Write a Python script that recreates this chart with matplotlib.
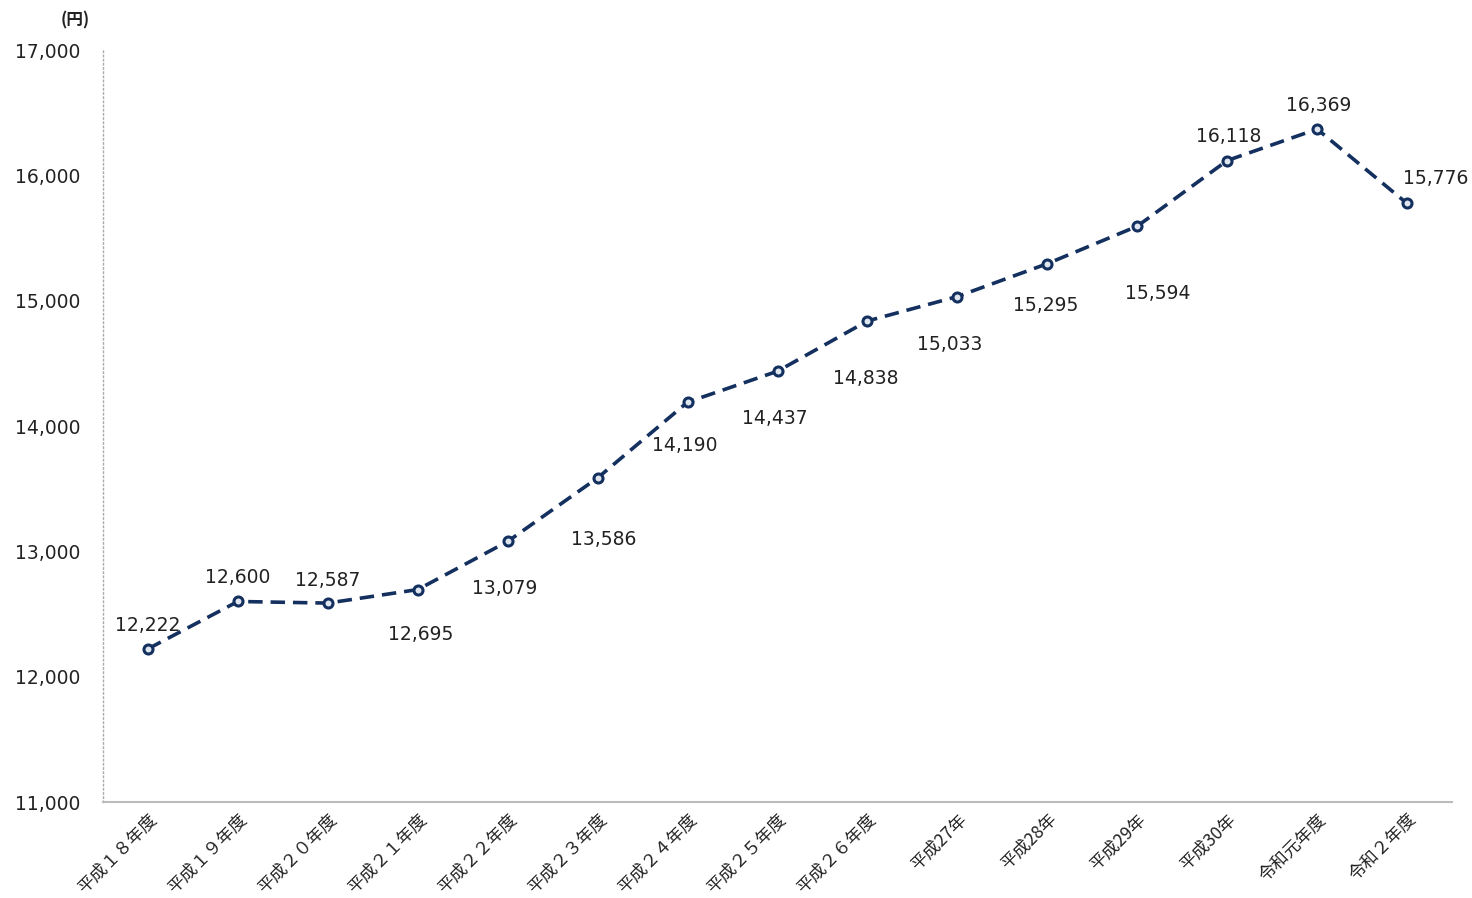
import matplotlib
matplotlib.use("Agg")
import matplotlib.pyplot as plt
from matplotlib.ticker import FixedLocator, FuncFormatter

plt.rcParams['font.family'] = ['Noto Sans CJK JP', 'DejaVu Sans']

categories = ["平成１８年度", "平成１９年度", "平成２０年度", "平成２１年度", "平成２２年度",
              "平成２３年度", "平成２４年度", "平成２５年度", "平成２６年度", "平成27年",
              "平成28年", "平成29年", "平成30年", "令和元年度", "令和２年度"]
values = [12222, 12600, 12587, 12695, 13079, 13586, 14190, 14437, 14838, 15033,
          15295, 15594, 16118, 16369, 15776]
yticks = [11000, 12000, 13000, 14000, 15000, 16000, 17000]

# label offsets in pixels (dx, dy)
label_offsets = [(0, 23), (0, 24), (0, 23), (3, -45), (-3, -47), (6, -62), (-3, -43),
                 (-3, -47), (-2, -58), (-8, -48), (-2, -42), (21, -67), (2, 24), (2, 24), (29, 25)]

navy = "#14305F"

fig = plt.figure(figsize=(14.72, 8.98), dpi=100)
ax = fig.add_axes([103/1472, 1-802/898, (1452-103)/1472, (802-50)/898])

x = list(range(len(categories)))
ax.plot(x, values, color=navy, lw=2.6, dashes=(4, 2.2), marker='o', markersize=6.5,
        markerfacecolor='#dfe6f0', markeredgecolor=navy, markeredgewidth=2.2,
        solid_capstyle='butt', dash_capstyle='butt')

for xi, v, (dx, dy) in zip(x, values, label_offsets):
    ax.annotate(f"{v:,}", (xi, v), xytext=(dx, dy), textcoords='offset pixels',
                ha='center', va='center', fontsize=13.5, color='#222222',
                family=['DejaVu Sans'])

ax.set_xlim(-0.5, len(categories) - 0.5)
ax.set_ylim(11000, 17000)
ax.yaxis.set_major_locator(FixedLocator(yticks))
ax.yaxis.set_major_formatter(FuncFormatter(lambda v, p: f"{int(v):,}"))
ax.set_xticks(x)
ax.set_xticklabels(categories, rotation=45, ha='right', va='top', rotation_mode='anchor',
                   fontsize=12.5, color='#222222')
for lab in ax.get_yticklabels():
    lab.set_family(['DejaVu Sans'])
    lab.set_fontsize(13.5)
    lab.set_color('#222222')

ax.tick_params(axis='both', length=0)
ax.tick_params(axis='y', pad=16)
ax.tick_params(axis='x', pad=6)

for s in ['top', 'right']:
    ax.spines[s].set_visible(False)
ax.spines['left'].set_color('#aaaaaa')
ax.spines['left'].set_linestyle((0, (1, 2)))
ax.spines['left'].set_linewidth(1.0)
ax.spines['bottom'].set_color('#bbbbbb')
ax.spines['bottom'].set_linewidth(1.5)

fig.text(75/1472, 1-20/898, "(円)", ha='center', va='center', fontsize=12,
         fontweight='bold', color='#222222')

fig.savefig("out.png", dpi=100)
